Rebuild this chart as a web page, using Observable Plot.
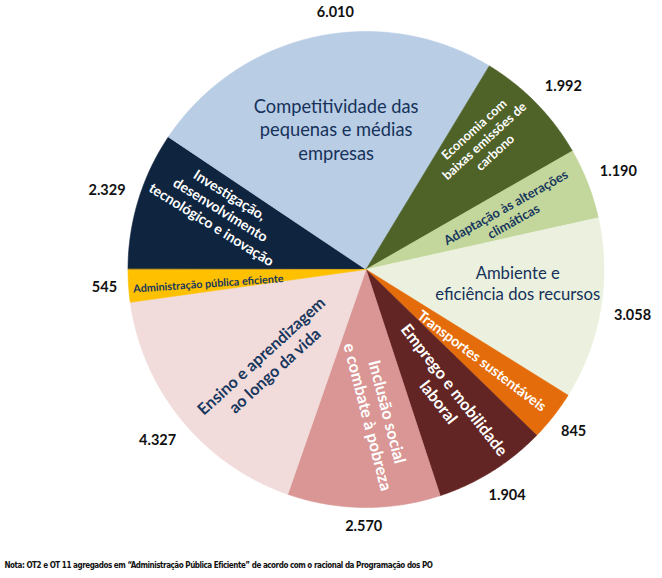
<!DOCTYPE html>
<html>
<head>
<meta charset="utf-8">
<script src="https://cdn.jsdelivr.net/npm/d3@7"></script>
<script src="https://cdn.jsdelivr.net/npm/@observablehq/plot@0.6"></script>
<style>
  body { margin: 0; background: #ffffff; }
  #chart svg { display: block; }
</style>
</head>
<body>
<div id="chart"></div>
<script>
// ---- data ----
const categories = [
  "Investigação, desenvolvimento tecnológico e inovação",
  "Competitividade das pequenas e médias empresas",
  "Economia com baixas emissões de carbono",
  "Adaptação às alterações climáticas",
  "Ambiente e eficiência dos recursos",
  "Transportes sustentáveis",
  "Emprego e mobilidade laboral",
  "Inclusão social e combate à pobreza",
  "Ensino e aprendizagem ao longo da vida",
  "Administração pública eficiente"
];
const values = [2329, 6010, 1992, 1190, 3058, 845, 1904, 2570, 4327, 545];
const sliceLabels = [
  "Investigação,\ndesenvolvimento\ntecnológico e inovação",
  "Competitividade das\npequenas e médias\nempresas",
  "Economia com\nbaixas emissões de\ncarbono",
  "Adaptação às alterações\nclimáticas",
  "Ambiente e\neficiência dos recursos",
  "Transportes sustentáveis",
  "Emprego e mobilidade\nlaboral",
  "Inclusão social\ne combate à pobreza",
  "Ensino e aprendizagem\nao longo da vida",
  "Administração pública eficiente"
];
const note = "Nota: OT2 e OT 11 agregados em \u201CAdministração Pública Eficiente\u201D de acordo com o racional da Programação dos PO";

// ---- styles / label layout ----
const colors = ["#0F243E", "#B9CDE5", "#4F6228", "#C3D69B", "#EBF1DE",
                "#E46C0A", "#632523", "#D99694", "#F2DCDB", "#FFC000"];
const labelSizes = [14.2, 18.3, 12.8, 13, 16.7, 14.3, 16.4, 16.5, 16.3, 10.8];
const labelTilt = [15, 0, 2, -8, 0, -1, -6, -15, -3, 0];
const labelRadius = [0.66, 0.605, 0.735, 0.646, 0.64, 0.62, 0.63, 0.61, 0.57, 0.665];
const labelShift = [5.6, 0.5, -3.2, 0, -4.6, 0, -0.7, -5.3, -4.1, -1];
const valueShift = [0, 5.7, 1.5, 0, 0, 0, 0, 0, 0, 0];
const horizontalLabels = new Set([categories[1], categories[4]]);
const navy = "#17375E";

// ---- layout ----
const W = 662, H = 578, CX = 365.5, CY = 269, R = 238;
const rad = Math.PI / 180;

const fmt = d3.formatLocale({decimal: ",", thousands: ".", grouping: [3], currency: ["", "€"]}).format(",d");

const arcs = d3.pie().sort(null).startAngle(-Math.PI / 2).endAngle(1.5 * Math.PI)(values);

const slicePoints = arcs.flatMap((a, i) => {
  const n = Math.max(2, Math.ceil((a.endAngle - a.startAngle) / (Math.PI / 360)));
  const pts = [{name: categories[i], x: 0, y: 0}];
  for (let k = 0; k <= n; k++) {
    const t = a.startAngle + (a.endAngle - a.startAngle) * k / n;
    pts.push({name: categories[i], x: Math.sin(t), y: -Math.cos(t)});
  }
  return pts;
});

const inner = arcs.map((a, i) => {
  const mid = (a.startAngle + a.endAngle) / 2;
  const pos = mid + labelShift[i] * rad;
  const r = labelRadius[i];
  let rot = mid / rad - 90;
  while (rot > 180) rot -= 360;
  while (rot <= -180) rot += 360;
  if (rot > 95) rot -= 180;
  if (rot < -85) rot += 180;
  const horiz = horizontalLabels.has(categories[i]);
  return {
    text: sliceLabels[i],
    x: r * Math.sin(pos),
    y: -r * Math.cos(pos),
    rotate: horiz ? 0 : rot + labelTilt[i],
    size: labelSizes[i],
    white: d3.lab(colors[i]).l < 75,
    horiz
  };
});

const outer = arcs.map((a, i) => {
  const mid = (a.startAngle + a.endAngle) / 2 + valueShift[i] * rad;
  const txt = fmt(values[i]);
  const hw = 3.9 * txt.length;
  const d = 1 + (12 + hw * Math.abs(Math.sin(mid)) + 7 * Math.abs(Math.cos(mid))) / R;
  return {text: txt, x: d * Math.sin(mid), y: -d * Math.cos(mid)};
});

const chart = Plot.plot({
  width: W,
  height: H,
  margin: 0,
  x: {domain: [-CX / R, (W - CX) / R], range: [0, W], axis: null},
  y: {domain: [-CY / R, (H - CY) / R], range: [0, H], axis: null},
  color: {domain: categories, range: colors},
  style: {fontFamily: "Lato, 'Open Sans', sans-serif", background: "#ffffff"},
  marks: [
    Plot.line(slicePoints, {x: "x", y: "y", z: "name", fill: "name", stroke: "name", strokeWidth: 0.6, curve: "linear-closed"}),
    Plot.text(inner, {filter: d => d.horiz, x: "x", y: "y", text: "text", fontSize: "size",
      rotate: "rotate", fill: "#16325A", fontWeight: "normal", lineHeight: 1.28}),
    Plot.text(inner, {filter: d => !d.horiz && d.white, x: "x", y: "y", text: "text", fontSize: "size",
      rotate: "rotate", fill: "white", fontWeight: "bold", lineHeight: 1.22}),
    Plot.text(inner, {filter: d => !d.horiz && !d.white, x: "x", y: "y", text: "text", fontSize: "size",
      rotate: "rotate", fill: navy, fontWeight: "bold", lineHeight: 1.22}),
    Plot.text(outer, {x: "x", y: "y", text: "text", fontSize: 14.5, fontWeight: "bold", fill: "#111111"}),
    Plot.text([note], {frameAnchor: "bottom-left", text: d => d, dx: 4, dy: -11, textAnchor: "start",
      fontSize: 8, fontWeight: "bold", fill: "#111111",
      fontFamily: "'DejaVu Sans Condensed', sans-serif"})
  ]
});

d3.select(chart).selectAll("text")
  .filter(function () { return this.textContent.startsWith("Nota:"); })
  .style("letter-spacing", "-0.45px");

document.getElementById("chart").appendChild(chart);
</script>
</body>
</html>
